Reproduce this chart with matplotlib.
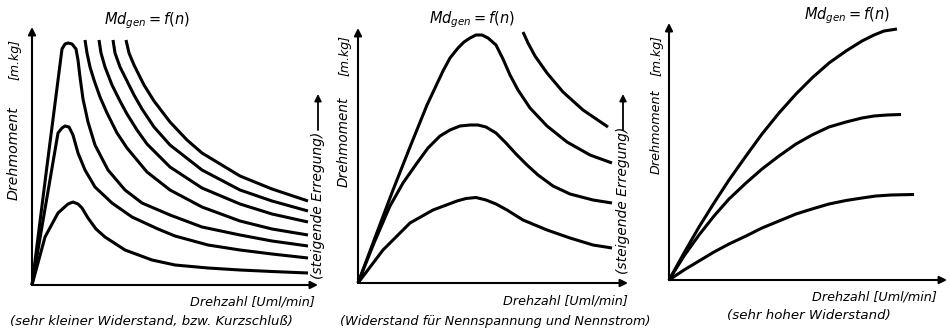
import matplotlib
matplotlib.use("Agg")
import matplotlib.pyplot as plt
from matplotlib.patches import FancyArrowPatch

# Md_gen = f(n) – Drehmoment über Drehzahl, drei Belastungsfälle
# Einheiten: willkürlich (aus der Zeichnung abgelesen)

# Fall 1: sehr kleiner Widerstand (Kurzschluß)
p1_low_n = [0, 13, 26, 36, 41, 46, 50, 56, 64, 73, 93, 120, 143, 176, 208, 240, 276]
p1_low_M = [0, 48, 72, 81, 83, 81, 77, 67, 56, 48, 35, 25, 20, 17, 15, 13.5, 12]
p1_mid_n = [0, 26, 30, 33, 37, 41, 46, 53, 63, 80, 100, 126, 143, 176, 208, 240, 276]
p1_mid_M = [0, 152, 157, 159, 158, 150, 132, 115, 98, 82, 68, 56, 49, 40, 35, 31, 27]
p1_top_n = [0, 15, 30, 33, 36, 40, 44, 46, 48, 51, 56, 63, 76, 93, 110, 138, 170, 208, 240, 276]
p1_top_M = [0, 119, 236, 241, 242, 241, 236, 225, 208, 186, 163, 140, 115, 95, 82, 70, 58, 50, 44, 39]
p1_a_n = [53, 55, 58, 62, 68, 75, 85, 95, 115, 138, 170, 208, 240, 276]
p1_a_M = [245, 232, 218, 205, 188, 172, 152, 137, 113, 95, 78, 64, 56, 50]
p1_b_n = [67, 69, 73, 80, 88, 95, 105, 115, 138, 170, 208, 240, 276]
p1_b_M = [245, 232, 218, 200, 184, 171, 155, 141, 118, 97, 81, 71, 63]
p1_c_n = [81, 83, 88, 95, 102, 110, 122, 138, 170, 208, 240, 276]
p1_c_M = [245, 232, 218, 204, 190, 176, 158, 140, 115, 95, 84, 74]
p1_d_n = [94, 97, 102, 112, 122, 138, 155, 170, 208, 240, 276]
p1_d_M = [245, 232, 220, 200, 184, 163, 145, 132, 109, 96, 84]

# Fall 2: Widerstand für Nennspannung und Nennstrom
p2_top_n = [0, 18, 35, 52, 69, 85, 92, 100, 106, 112, 118, 124, 130, 138, 145, 152, 160, 172, 189, 209, 232, 254]
p2_top_M = [0, 48, 93, 136, 178, 212, 225, 235, 241, 245, 248, 248, 245, 238, 224, 208, 193, 175, 157, 141, 128, 120]
p2_mid_n = [0, 16, 32, 45, 59, 70, 82, 92, 102, 112, 120, 128, 138, 148, 158, 169, 180, 195, 212, 235, 254]
p2_mid_M = [0, 40, 77, 100, 120, 135, 147, 153, 157, 158, 158, 156, 150, 140, 129, 118, 108, 97, 89, 83, 80]
p2_low_n = [0, 25, 52, 75, 99, 108, 118, 128, 138, 149, 165, 189, 212, 235, 254]
p2_low_M = [0, 33, 60, 73, 82, 84.5, 85.5, 83, 79, 73, 63, 53, 45, 38, 35]
p2_ext_n = [165, 170, 177, 189, 205, 225, 250]
p2_ext_M = [251, 240, 227, 210, 191, 173, 156]

# Fall 3: sehr hoher Widerstand
p3_top_n = [0, 15, 30, 45, 60, 77, 93, 110, 127, 143, 160, 177, 193, 205, 215, 228]
p3_top_M = [0, 27, 53, 77, 100, 124, 146, 167, 186, 202, 217, 229, 239, 245, 249, 251]
p3_mid_n = [0, 15, 30, 45, 60, 77, 93, 110, 127, 143, 160, 177, 193, 205, 218, 232]
p3_mid_M = [0, 24, 45, 64, 81, 97, 111, 124, 136, 145, 153, 158, 162, 164, 165, 165.5]
p3_low_n = [0, 15, 30, 45, 60, 77, 93, 110, 127, 143, 160, 177, 193, 207, 222, 245]
p3_low_M = [0, 10, 19, 28, 36, 44, 52, 59, 66, 71, 76, 79.5, 82, 84, 85, 85.5]

panels = [
    dict(origin=(32, 285), xmax=286, ymax=258,
         curves=[(p1_low_n, p1_low_M), (p1_mid_n, p1_mid_M), (p1_top_n, p1_top_M),
                 (p1_a_n, p1_a_M), (p1_b_n, p1_b_M), (p1_c_n, p1_c_M), (p1_d_n, p1_d_M)]),
    dict(origin=(358, 283), xmax=270, ymax=255,
         curves=[(p2_top_n, p2_top_M), (p2_mid_n, p2_mid_M), (p2_low_n, p2_low_M),
                 (p2_ext_n, p2_ext_M)]),
    dict(origin=(669, 280), xmax=278, ymax=257,
         curves=[(p3_top_n, p3_top_M), (p3_mid_n, p3_mid_M), (p3_low_n, p3_low_M)]),
]

W, H = 950, 334
fig = plt.figure(figsize=(W / 100, H / 100), dpi=100)


def fx(px):
    return px / W


def fy(py):
    return 1 - py / H


for p in panels:
    ox, oy = p['origin']
    ax = fig.add_axes([fx(ox), fy(oy), p['xmax'] / W, p['ymax'] / H])
    ax.set_xlim(0, p['xmax'])
    ax.set_ylim(0, p['ymax'])
    ax.axis('off')
    for n, M in p['curves']:
        ax.plot(n, M, color='k', lw=2.2, solid_capstyle='butt', solid_joinstyle='round', clip_on=False)
    arr = dict(arrowstyle='-|>', lw=1.5, color='k', mutation_scale=11, shrinkA=0, shrinkB=0)
    ax.annotate('', xy=(1, 0), xytext=(0, 0), xycoords='axes fraction', arrowprops=arr)
    ax.annotate('', xy=(0, 1), xytext=(0, 0), xycoords='axes fraction', arrowprops=arr)

txt = dict(family='DejaVu Sans', style='italic', color='k')

# Titel
for x, y in [(147, 21), (472, 20), (847, 16)]:
    fig.text(fx(x), fy(y), r'$Md_{gen} = f(n)$', ha='center', va='center', fontsize=10.5)

# Achsenbeschriftungen
for x, yu, yd, fs in [(15, 59, 153, 10.2), (345, 55, 142, 9.8), (657, 55, 132, 9.2)]:
    fig.text(fx(x), fy(yu), '[m.kg]', rotation=90, ha='center', va='center', fontsize=9, **txt)
    fig.text(fx(x - 1), fy(yd), 'Drehmoment', rotation=90, ha='center', va='center', fontsize=fs, **txt)

for x, y in [(315, 302), (628, 301), (937, 297)]:
    fig.text(fx(x), fy(y), 'Drehzahl [Uml/min]', ha='right', va='center', fontsize=9.2, **txt)

fig.text(fx(10), fy(322), '(sehr kleiner Widerstand, bzw. Kurzschluß)', ha='left', va='center', fontsize=9.5, **txt)
fig.text(fx(340), fy(322), '(Widerstand für Nennspannung und Nennstrom)', ha='left', va='center', fontsize=9.3, **txt)
fig.text(fx(727), fy(316), '(sehr hoher Widerstand)', ha='left', va='center', fontsize=9.6, **txt)

# steigende Erregung
for x, yc, y0, y1 in [(318, 205, 130, 94), (623, 200, 130, 94)]:
    fig.text(fx(x), fy(yc), '(steigende Erregung)', rotation=90, ha='center', va='center', fontsize=10, **txt)
    fig.add_artist(FancyArrowPatch(
        (fx(x), fy(y0)), (fx(x), fy(y1)), transform=fig.transFigure,
        arrowstyle='-|>', mutation_scale=10, lw=1.3, color='k', shrinkA=0, shrinkB=0))

fig.savefig('out.png', dpi=100, facecolor='white')
